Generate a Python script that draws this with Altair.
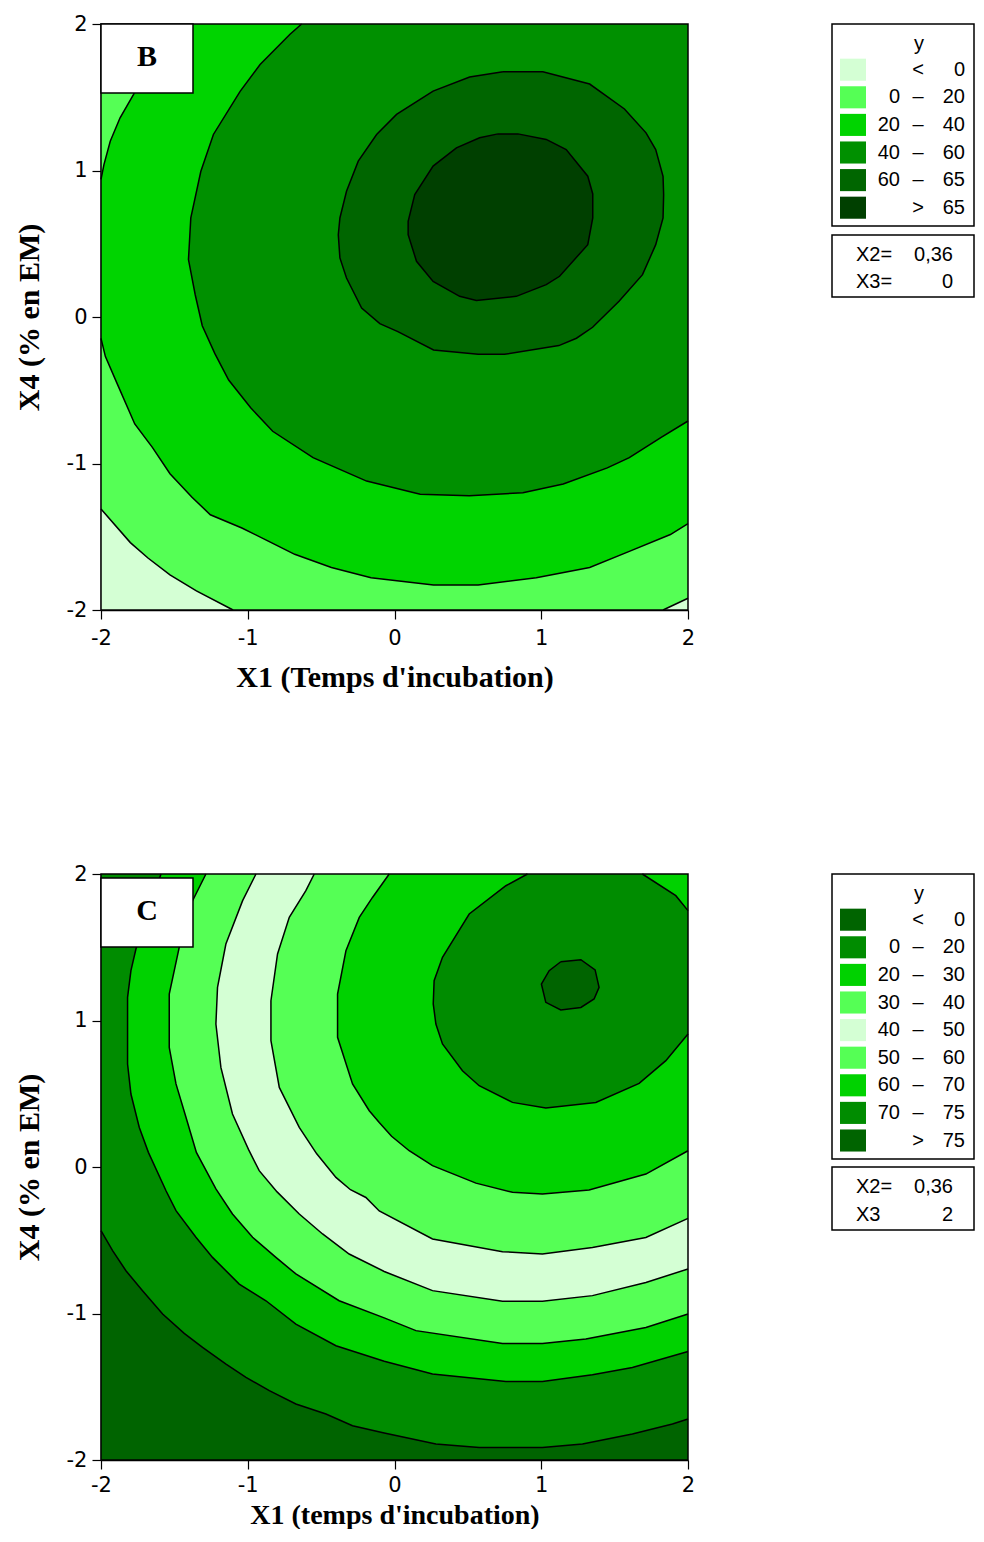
import altair as alt
import pandas as pd

# ---------------- Panel B : contour lines (X1, X4) -------------
B0a_x = [-2.0, -1.80, -1.68, -1.53, -1.35, -1.10]
B0a_y = [-1.31, -1.54, -1.645, -1.76, -1.87, -2.0]
B0b_x = [1.83, 2.0]
B0b_y = [-2.0, -1.92]
B20a_x = [-2.0, -1.97, -1.89, -1.77, -1.65, -1.53, -1.38, -1.255, -1.04, -0.86, -0.68,
          -0.43, -0.16, 0.266, 0.57, 0.966, 1.33, 1.6, 1.88, 2.0]
B20a_y = [-0.146, -0.27, -0.455, -0.73, -0.89, -1.07, -1.23, -1.35, -1.44, -1.53, -1.62,
          -1.71, -1.78, -1.83, -1.83, -1.78, -1.71, -1.6, -1.485, -1.41]
B20b_x = [-1.55, -1.6, -1.68, -1.778, -1.87, -1.937, -1.98, -2.0]
B20b_y = [2.0, 1.88, 1.72, 1.52, 1.36, 1.2, 1.04, 0.94]
B40_x = [-0.633, -0.712, -0.916, -1.052, -1.234, -1.32, -1.388, -1.404, -1.358, -1.31,
         -1.224, -1.13, -0.98, -0.83, -0.555, -0.19, 0.175, 0.51, 0.875, 1.15, 1.45, 1.6,
         1.82, 2.0]
B40_y = [2.0, 1.93, 1.724, 1.54, 1.246, 0.993, 0.676, 0.392, 0.152, -0.06, -0.25, -0.43,
         -0.62, -0.78, -0.96, -1.12, -1.21, -1.22, -1.20, -1.14, -1.03, -0.96, -0.82, -0.71]
B60_x = [0.739, 1.011, 1.33, 1.567, 1.714, 1.78, 1.83, 1.834, 1.83, 1.78, 1.69, 1.53, 1.35,
         1.24, 1.12, 0.75, 0.57, 0.266, 0.023, -0.10, -0.224, -0.327, -0.372, -0.383, -0.372,
         -0.327, -0.247, -0.122, 0.014, 0.263, 0.512, 0.739]
B60_y = [1.674, 1.674, 1.59, 1.42, 1.257, 1.143, 0.96, 0.836, 0.676, 0.494, 0.289, 0.107,
         -0.07, -0.145, -0.195, -0.255, -0.255, -0.225, -0.10, -0.045, 0.061, 0.266, 0.403,
         0.562, 0.676, 0.858, 1.064, 1.246, 1.383, 1.542, 1.638, 1.674]
B65_x = [0.705, 0.841, 1.034, 1.17, 1.317, 1.351, 1.351, 1.317, 1.125, 1.034, 0.83, 0.558,
         0.444, 0.263, 0.15, 0.093, 0.093, 0.138, 0.263, 0.422, 0.58, 0.705]
B65_y = [1.25, 1.25, 1.212, 1.143, 0.961, 0.84, 0.676, 0.494, 0.278, 0.221, 0.141, 0.113,
         0.141, 0.243, 0.38, 0.562, 0.653, 0.836, 1.03, 1.155, 1.223, 1.25]

# ---------------- Panel C -----------------------------------------------------------
C0_x = [-2.0, -1.921, -1.83, -1.717, -1.58, -1.433, -1.308, -1.148, -1.012, -0.853, -0.672,
        -0.467, -0.286, -0.07, 0.282, 0.577, 1.008, 1.281, 1.621, 1.894, 2.0]
C0_y = [-0.435, -0.571, -0.708, -0.844, -1.003, -1.136, -1.231, -1.345, -1.436, -1.527,
        -1.618, -1.686, -1.766, -1.815, -1.89, -1.914, -1.914, -1.89, -1.823, -1.754, -1.72]
C20_x = [-1.591, -1.68, -1.762, -1.796, -1.819, -1.819, -1.796, -1.739, -1.677, -1.557,
         -1.489, -1.353, -1.24, -1.058, -0.876, -0.672, -0.399, -0.07, 0.259, 0.759, 1.008,
         1.349, 1.621, 2.0]
C20_y = [2.0, 1.75, 1.488, 1.34, 1.158, 0.703, 0.498, 0.27, 0.10, -0.162, -0.298, -0.48,
         -0.617, -0.799, -0.913, -1.072, -1.22, -1.326, -1.413, -1.464, -1.464, -1.418,
         -1.368, -1.26]
C30_x = [-1.285, -1.376, -1.467, -1.535, -1.535, -1.489, -1.421, -1.35, -1.217, -1.104,
         -0.967, -0.808, -0.672, -0.377, -0.07, 0.146, 0.736, 1.008, 1.304, 1.713, 2.0]
C30_y = [2.0, 1.818, 1.499, 1.181, 0.816, 0.567, 0.339, 0.10, -0.15, -0.321, -0.48, -0.617,
         -0.73, -0.913, -1.03, -1.117, -1.204, -1.204, -1.174, -1.095, -1.003]
C40_x = [-0.944, -1.035, -1.149, -1.206, -1.217, -1.183, -1.104, -0.995, -0.922, -0.80,
         -0.649, -0.49, -0.309, -0.07, 0.259, 0.736, 1.008, 1.349, 1.713, 2.0]
C40_y = [2.0, 1.818, 1.522, 1.226, 0.976, 0.68, 0.362, 0.12, -0.025, -0.17, -0.321, -0.457,
         -0.594, -0.713, -0.844, -0.917, -0.917, -0.878, -0.788, -0.696]
C50_x = [-0.547, -0.604, -0.717, -0.797, -0.842, -0.842, -0.785, -0.649, -0.53, -0.399,
         -0.30, -0.195, -0.104, 0.259, 0.736, 1.008, 1.349, 1.713, 2.0]
C50_y = [2.0, 1.886, 1.704, 1.454, 1.135, 0.862, 0.543, 0.27, 0.09, -0.071, -0.155, -0.208,
         -0.30, -0.491, -0.578, -0.594, -0.549, -0.481, -0.351]
C60_x = [-0.036, -0.15, -0.24, -0.331, -0.388, -0.388, -0.286, -0.172, -0.104, -0.02, 0.1,
         0.259, 0.555, 0.804, 1.008, 1.326, 1.713, 2.0]
C60_y = [2.0, 1.84, 1.704, 1.476, 1.181, 0.885, 0.567, 0.384, 0.304, 0.21, 0.111, 0.009,
         -0.11, -0.173, -0.184, -0.157, -0.048, 0.111]
C70a_x = [0.906, 0.759, 0.509, 0.327, 0.27, 0.264, 0.282, 0.327, 0.463, 0.577, 0.804, 1.031,
          1.372, 1.667, 1.849, 2.0]
C70a_y = [2.0, 1.92, 1.727, 1.431, 1.272, 1.113, 0.976, 0.84, 0.657, 0.555, 0.441, 0.403,
          0.441, 0.571, 0.726, 0.908]
C70b_x = [2.0, 1.917, 1.689]
C70b_y = [1.75, 1.852, 2.0]
C75_x = [1.133, 1.27, 1.367, 1.394, 1.36, 1.27, 1.133, 1.031, 1.001, 1.054, 1.133]
C75_y = [1.401, 1.415, 1.345, 1.226, 1.147, 1.089, 1.072, 1.124, 1.249, 1.34, 1.401]

# ---------------- legends -------------------------------------------------------------
B_lo = ["", "0", "20", "40", "60", ""]
B_sym = ["<", "\u2013", "\u2013", "\u2013", "\u2013", ">"]
B_hi = ["0", "20", "40", "60", "65", "65"]
B_col = ["#d4ffd4", "#55ff55", "#00d400", "#009000", "#006600", "#004000"]
B_info_k = ["X2=", "X3="]
B_info_v = ["0,36", "0"]

C_lo = ["", "0", "20", "30", "40", "50", "60", "70", ""]
C_sym = ["<", "\u2013", "\u2013", "\u2013", "\u2013", "\u2013", "\u2013", "\u2013", ">"]
C_hi = ["0", "20", "30", "40", "50", "60", "70", "75", "75"]
C_col = ["#006400", "#008c00", "#00d200", "#55ff55", "#d4ffd4", "#55ff55", "#00d200",
         "#008c00", "#006400"]
C_info_k = ["X2=", "X3"]
C_info_v = ["0,36", "2"]

TICKS = [-2, -1, 0, 1, 2]
LO, HI = -2.0, 2.0
TICK_FONT = "DejaVu Sans"
LEG_FONT = "Liberation Sans"
TITLE_FONT = "Liberation Serif"


def pts(xs, ys):
    return list(zip(xs, ys))


def frame_df():
    return pd.DataFrame({"x0": [LO], "x1": [HI], "y0": [LO], "y1": [HI]})


def panel(polys, lines, bg_color, xtitle, label, box_y, x_label_pad, x_title_pad,
          x_title_size, w=587, h=586):
    xs = alt.Scale(domain=[LO, HI], nice=False, zero=False)
    ys = alt.Scale(domain=[LO, HI], nice=False, zero=False)
    ax = dict(values=TICKS, labelExpr="'' + datum.value", labelFlush=False,
              labelOverlap=False, grid=False)
    axx = alt.Axis(title=xtitle, titlePadding=x_title_pad, labelPadding=x_label_pad,
                   titleFontSize=x_title_size, **ax)
    axy = alt.Axis(title="X4 (% en EM)", titlePadding=22, labelPadding=5,
                   titleFontSize=30, **ax)

    bg = alt.Chart(frame_df()).mark_rect(fill=bg_color).encode(
        x=alt.X("x0:Q", scale=xs, axis=axx), x2="x1:Q",
        y=alt.Y("y0:Q", scale=ys, axis=axy), y2="y1:Q")
    layers = [bg]
    for seg_list, color in polys:
        p = []
        for s in seg_list:
            p.extend(s)
        df = pd.DataFrame({"x": [q[0] for q in p], "y": [q[1] for q in p],
                           "i": list(range(len(p)))})
        layers.append(
            alt.Chart(df).mark_line(fill=color, strokeOpacity=0, strokeWidth=0).encode(
                x=alt.X("x:Q", scale=xs, axis=axx),
                y=alt.Y("y:Q", scale=ys, axis=axy),
                order="i:Q"))
    rows = []
    for cid, (lx, ly) in enumerate(lines):
        for i, (a, b) in enumerate(zip(lx, ly)):
            rows.append({"cid": cid, "i": i, "x": a, "y": b})
    ldf = pd.DataFrame(rows)
    layers.append(
        alt.Chart(ldf).mark_line(color="black", strokeWidth=1.5).encode(
            x=alt.X("x:Q", scale=xs, axis=axx),
            y=alt.Y("y:Q", scale=ys, axis=axy),
            detail="cid:N", order="i:Q"))
    layers.append(
        alt.Chart(frame_df()).mark_rect(fillOpacity=0, stroke="black", strokeWidth=1.5).encode(
            x=alt.X("x0:Q", scale=xs, axis=axx), x2="x1:Q",
            y=alt.Y("y0:Q", scale=ys, axis=axy), y2="y1:Q"))
    tdf = pd.DataFrame({"t": [label]})
    layers.append(
        alt.Chart(tdf).mark_rect(fill="white", stroke="black", strokeWidth=1.5).encode(
            x=alt.value(0), x2=alt.value(92), y=alt.value(box_y), y2=alt.value(box_y + 69)))
    layers.append(
        alt.Chart(tdf).mark_text(font=TITLE_FONT, fontWeight="bold", fontSize=30,
                                 color="black", baseline="middle").encode(
            x=alt.value(46), y=alt.value(box_y + 33), text="t:N"))
    return alt.layer(*layers).properties(width=w, height=h)


def legend(lo, sym, hi, col, info_k, info_v, h1, y2a, y2b, info_y, w=142,
           x_lo=68, x_sym=86, x_hi=133, x_k=24, x_v=121):
    n = len(lo)
    df = pd.DataFrame({"row": list(range(n)), "lo": lo, "sym": sym, "hi": hi, "c": col})
    H = y2b
    first, pitch = 45.7, 27.6
    ys = alt.Scale(domain=[-first / pitch, (H - first) / pitch], reverse=True, nice=False,
                   zero=False)
    one = pd.DataFrame({"t": ["y"]})
    box1 = alt.Chart(one).mark_rect(fill="white", stroke="black", strokeWidth=1.5).encode(
        x=alt.value(0), x2=alt.value(w), y=alt.value(0), y2=alt.value(h1))
    box2 = alt.Chart(one).mark_rect(fill="white", stroke="black", strokeWidth=1.5).encode(
        x=alt.value(0), x2=alt.value(w), y=alt.value(y2a), y2=alt.value(y2b))
    base_t = dict(font=LEG_FONT, fontSize=20, color="black", baseline="middle")
    ytitle = alt.Chart(one).mark_text(**base_t).encode(
        x=alt.value(87), y=alt.value(20), text="t:N")
    sw = alt.Chart(df).transform_calculate(top="datum.row - 0.4", bot="datum.row + 0.4"
                                           ).mark_rect().encode(
        x=alt.value(8), x2=alt.value(34),
        y=alt.Y("top:Q", scale=ys, axis=None), y2="bot:Q",
        fill=alt.Fill("c:N", scale=None))
    t_lo = alt.Chart(df).mark_text(align="right", **base_t).encode(
        x=alt.value(x_lo), y=alt.Y("row:Q", scale=ys, axis=None), text="lo:N")
    t_sym = alt.Chart(df).mark_text(align="center", **base_t).encode(
        x=alt.value(x_sym), y=alt.Y("row:Q", scale=ys, axis=None), text="sym:N")
    t_hi = alt.Chart(df).mark_text(align="right", **base_t).encode(
        x=alt.value(x_hi), y=alt.Y("row:Q", scale=ys, axis=None), text="hi:N")
    idf = pd.DataFrame({"k": info_k, "v": info_v, "r": [0, 1]})
    iscale = alt.Scale(domain=[0, 1], range=info_y)
    t_k = alt.Chart(idf).mark_text(align="left", **base_t).encode(
        x=alt.value(x_k), y=alt.Y("r:Q", scale=iscale, axis=None), text="k:N")
    t_v = alt.Chart(idf).mark_text(align="right", **base_t).encode(
        x=alt.value(x_v), y=alt.Y("r:Q", scale=iscale, axis=None), text="v:N")
    return alt.layer(box1, box2, ytitle, sw, t_lo, t_sym, t_hi, t_k, t_v).resolve_scale(
        y="independent").properties(width=w, height=H)


corner_tr = [(HI, HI)]
corner_tl = [(LO, HI)]

B_polys = [
    ([pts(B0a_x, B0a_y), pts(B0b_x, B0b_y), corner_tr, corner_tl], B_col[1]),
    ([pts(B20a_x, B20a_y), corner_tr, pts(B20b_x, B20b_y)], B_col[2]),
    ([pts(B40_x, B40_y), corner_tr], B_col[3]),
    ([pts(B60_x, B60_y)], B_col[4]),
    ([pts(B65_x, B65_y)], B_col[5]),
]
B_lines = [(B0a_x, B0a_y), (B0b_x, B0b_y), (B20a_x, B20a_y), (B20b_x, B20b_y),
           (B40_x, B40_y), (B60_x, B60_y), (B65_x, B65_y)]

C_polys = [
    ([pts(C0_x, C0_y), corner_tr, corner_tl], C_col[1]),
    ([pts(C20_x, C20_y), corner_tr], C_col[2]),
    ([pts(C30_x, C30_y), corner_tr], C_col[3]),
    ([pts(C40_x, C40_y), corner_tr], C_col[4]),
    ([pts(C50_x, C50_y), corner_tr], C_col[5]),
    ([pts(C60_x, C60_y), corner_tr], C_col[6]),
    ([pts(C70a_x, C70a_y), pts(C70b_x, C70b_y)], C_col[7]),
    ([pts(C75_x, C75_y)], C_col[8]),
]
C_lines = [(C0_x, C0_y), (C20_x, C20_y), (C30_x, C30_y), (C40_x, C40_y), (C50_x, C50_y),
           (C60_x, C60_y), (C70a_x, C70a_y), (C70b_x, C70b_y), (C75_x, C75_y)]

pB = panel(B_polys, B_lines, B_col[0], "X1 (Temps d'incubation)", "B", 0, 8, 14, 30)
pC = panel(C_polys, C_lines, C_col[0], "X1 (temps d'incubation)", "C", 4, 5, 6, 28)

lB = legend(B_lo, B_sym, B_hi, B_col, B_info_k, B_info_v, 202, 211, 273, [231, 258])
lC = legend(C_lo, C_sym, C_hi, C_col, C_info_k, C_info_v, 285, 293, 356, [313, 341])

chart = alt.concat(pB, lB, pC, lC, columns=2, spacing={"row": 264, "column": 144},
                   bounds="flush").properties(
    padding={"left": 6, "top": 5, "right": 0, "bottom": 0}
).configure_view(strokeWidth=0).configure_axis(
    labelFont=TICK_FONT, labelFontSize=21, labelColor="black",
    tickColor="black", tickSize=9, tickWidth=1.2, domainColor="black", domainWidth=1.5,
    titleFont=TITLE_FONT, titleFontWeight="bold", titleColor="black", zindex=1)

chart.save("out.html", embed_options={"renderer": "svg", "actions": False})
